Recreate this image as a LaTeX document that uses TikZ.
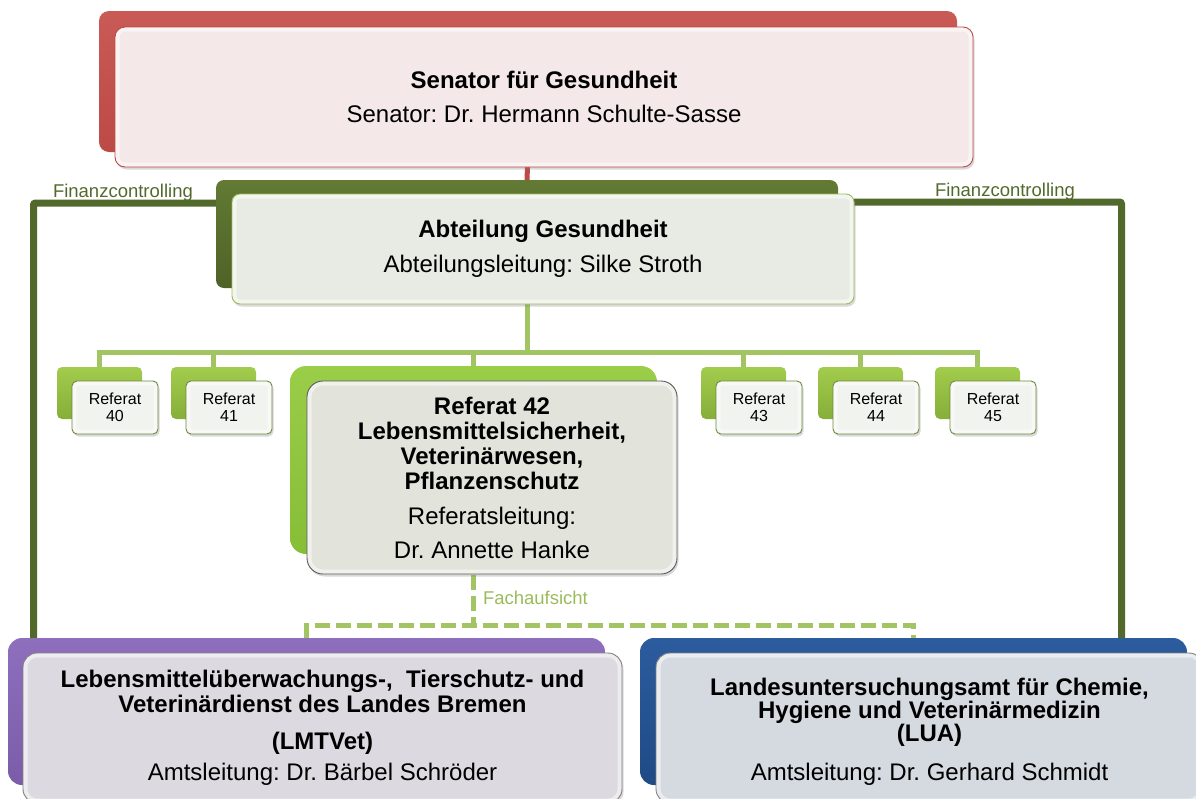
\documentclass[tikz,border=0pt]{standalone}
\usepackage{fontspec}
\setmainfont{Liberation Sans}
\usetikzlibrary{shadows}
\pgfdeclarelayer{bg}
\pgfsetlayers{bg,main}
\frenchspacing
\definecolor{senred}{HTML}{BC4A46}
\definecolor{senredlt}{HTML}{C95A56}
\definecolor{senfill}{HTML}{F5E8E8}
\definecolor{abdark}{HTML}{4F6228}
\definecolor{abdarklt}{HTML}{627A33}
\definecolor{abfill}{HTML}{E8EBE3}
\definecolor{ltgreen}{HTML}{9BBB59}
\definecolor{refback}{HTML}{86AE3A}
\definecolor{refbacklt}{HTML}{A2CC4C}
\definecolor{reffill}{HTML}{F1F3EE}
\definecolor{refborder}{HTML}{6B8A3A}
\definecolor{rzback}{HTML}{86BE36}
\definecolor{rzbacklt}{HTML}{9ACD48}
\definecolor{rzfill}{HTML}{E2E4DC}
\definecolor{darkborder}{HTML}{5A5A5A}
\definecolor{purback}{HTML}{7A5CA8}
\definecolor{purbacklt}{HTML}{8E6FBE}
\definecolor{purfill}{HTML}{DCD9E0}
\definecolor{bluback}{HTML}{1F4A85}
\definecolor{blubacklt}{HTML}{2C5C9E}
\definecolor{blufill}{HTML}{D5D9E0}
\definecolor{greyborder}{HTML}{808080}
\definecolor{dkgreen}{HTML}{516A2C}
\definecolor{lnlt}{HTML}{A3C463}
\begin{document}
\begin{tikzpicture}[x=1pt,y=-1pt,
  backbox/.style={anchor=north west, inner sep=0pt, outer sep=0pt, draw=none},
  frontbox/.style={anchor=north west, inner sep=0pt, outer sep=0pt, align=center,
    line width=0.9pt, text=black,
    drop shadow={shadow xshift=1.5pt, shadow yshift=-2.5pt, opacity=0.3},
    path picture={\draw[white,opacity=0.5,line width=9pt]
      (path picture bounding box.north west) rectangle (path picture bounding box.south east);}},
  bigtext/.style={font=\fontsize{24}{34}\selectfont},
  tighttext/.style={font=\fontsize{24}{25}\selectfont},
  smalltext/.style={font=\fontsize{16}{17}\selectfont},
  lbl/.style={inner sep=0pt, outer sep=0pt, font=\fontsize{18.5}{20}\selectfont},
  redline/.style={draw=senred, line width=5pt},
  lgline/.style={draw=lnlt, line width=5pt},
  fadash/.style={draw=lnlt, line width=5pt, dash pattern=on 15pt off 6pt},
  dgline/.style={draw=dkgreen, line width=7pt, rounded corners=2pt},
  refb/.style={backbox, top color=refbacklt, bottom color=refback, rounded corners=5pt, minimum width=85pt, minimum height=52pt},
  reff/.style={frontbox, smalltext, fill=reffill, draw=refborder, rounded corners=5pt, minimum width=86pt, minimum height=53pt}
]
\useasboundingbox (0,0) rectangle (1196,798);
\clip (0,0) rectangle (1196,798);

% Senator
\node[backbox, top color=senredlt, bottom color=senred, rounded corners=10pt, minimum width=858pt, minimum height=141pt] (sb) at (99,11) {};
\node[frontbox, bigtext, fill=senfill, draw=senred, rounded corners=10pt, minimum width=858pt, minimum height=140pt] (sf) at (115,27)
  {\textbf{Senator für Gesundheit}\\Senator: Dr. Hermann Schulte-Sasse};

% Abteilung
\node[backbox, top color=abdarklt, bottom color=abdark, rounded corners=8pt, minimum width=622pt, minimum height=108pt] (ab) at (216,180) {};
\node[frontbox, font=\fontsize{24}{35}\selectfont, fill=abfill, draw=ltgreen, rounded corners=8pt, minimum width=622pt, minimum height=110pt] (af) at (232,194)
  {\textbf{Abteilung Gesundheit}\\Abteilungsleitung: Silke Stroth};

% Referate
\node[refb] (r40b) at (57,367) {};
\node[reff] (r40f) at (72,381) {Referat\\40};
\node[refb] (r41b) at (171,367) {};
\node[reff] (r41f) at (186,381) {Referat\\41};
\node[refb] (r43b) at (701,367) {};
\node[reff] (r43f) at (716,381) {Referat\\43};
\node[refb] (r44b) at (818,367) {};
\node[reff] (r44f) at (833,381) {Referat\\44};
\node[refb] (r45b) at (935,367) {};
\node[reff] (r45f) at (950,381) {Referat\\45};

% Referat 42
\node[backbox, top color=rzbacklt, bottom color=rzback, rounded corners=16pt, minimum width=367pt, minimum height=188pt] (r42b) at (290,366) {};
\node[frontbox, tighttext, fill=rzfill, draw=darkborder, rounded corners=16pt, minimum width=370pt, minimum height=193pt] (r42f) at (307,381)
  {\textbf{Referat 42}\\\textbf{Lebensmittelsicherheit,}\\\textbf{Veterinärwesen,}\\\textbf{Pflanzenschutz}\\[10pt]Referatsleitung:\\[9pt]Dr. Annette Hanke};

% LMTVet
\node[backbox, top color=purbacklt, bottom color=purback, rounded corners=14pt, minimum width=597pt, minimum height=147pt] (lmb) at (8,638) {};
\node[frontbox, tighttext, fill=purfill, draw=greyborder, rounded corners=14pt, minimum width=599pt, minimum height=150pt] (lmf) at (23,653)
  {\textbf{Lebensmittelüberwachungs-,\ \ Tierschutz- und}\\\textbf{Veterinärdienst des Landes Bremen}\\[12pt]\textbf{(LMTVet)}\\[6pt]Amtsleitung: Dr. Bärbel Schröder};

% LUA
\node[backbox, top color=blubacklt, bottom color=bluback, rounded corners=14pt, minimum width=547pt, minimum height=147pt] (luab) at (640,638) {};
\node[frontbox, font=\fontsize{24}{23}\selectfont, fill=blufill, draw=greyborder, rounded corners=14pt, minimum width=547pt, minimum height=150pt] (luaf) at (656,653)
  {\rule{0pt}{25pt}\textbf{Landesuntersuchungsamt für Chemie,}\\\textbf{Hygiene und Veterinärmedizin}\\\textbf{(LUA)}\\[16pt]Amtsleitung: Dr. Gerhard Schmidt};

% labels
\node[lbl, text=dkgreen, anchor=base west] (fc1) at (53,197) {Finanzcontrolling};
\node[lbl, text=dkgreen, anchor=base west] (fc2) at (935,196) {Finanzcontrolling};
\node[lbl, text=ltgreen, anchor=west] (fach) at (483,598) {Fachaufsicht};

\coordinate (bus) at (527,352);
\coordinate (fa) at (474,625);
\coordinate (fl) at (33.5,203);
\coordinate (fr) at (1121.5,202);

\begin{pgfonlayer}{bg}
\draw[redline] (sb.south) -- (ab.north);
\draw[lgline] (ab.south) -- (ab.south |- bus) -| (r40b.north);
\draw[lgline] (ab.south |- bus) -| (r41b.north);
\draw[lgline] (ab.south |- bus) -| (r42b.north);
\draw[lgline] (ab.south |- bus) -| (r43b.north);
\draw[lgline] (ab.south |- bus) -| (r44b.north);
\draw[lgline] (ab.south |- bus) -| (r45b.north);
\draw[fadash] (r42b.south) -- (r42b.south |- fa);
\draw[fadash] (lmb.north) |- (fa) -| (luab.north);
\draw[dgline] (ab.west |- fl) -- (fl) -- (fl |- lmb.north);
\draw[dgline] (af.east |- fr) -- (fr) -- (fr |- luab.north);
\end{pgfonlayer}
\end{tikzpicture}
\end{document}
